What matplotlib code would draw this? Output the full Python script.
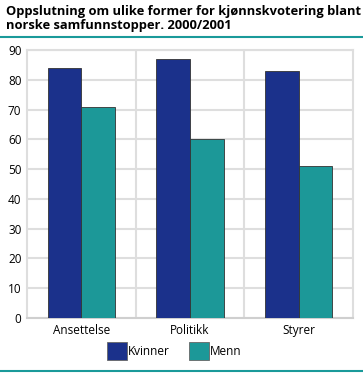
import matplotlib
matplotlib.use("Agg")
import matplotlib.pyplot as plt
import numpy as np
from matplotlib.patches import Patch
from matplotlib.lines import Line2D

# data
categories = ["Ansettelse", "Politikk", "Styrer"]
kvinner = [84, 87, 83]
menn = [71, 60, 51]
series_names = ["Kvinner", "Menn"]
yticks = list(range(0, 91, 10))

C_KV = "#1b318b"
C_ME = "#1c9898"
TEAL = "#1a9a9a"
GRID = "#dedede"

plt.rcParams["font.family"] = ["Open Sans", "DejaVu Sans"]

fig = plt.figure(figsize=(3.63, 3.73), dpi=100)
W, H = 363, 373
ax = fig.add_axes([27 / W, 1 - 318 / H, (353 - 27) / W, (318 - 50) / H])

x = np.arange(len(categories))
bw = 0.31
ax.bar(x - bw / 2, kvinner, bw, color=C_KV, edgecolor="#333333", linewidth=0.6, zorder=3)
ax.bar(x + bw / 2, menn, bw, color=C_ME, edgecolor="#333333", linewidth=0.6, zorder=3)

ax.set_xlim(-0.5, len(categories) - 0.5)
ax.set_ylim(0, 90)
ax.set_yticks(yticks)
ax.set_xticks(x)
ax.set_xticklabels(categories)
ax.tick_params(length=0, labelsize=8.5, pad=4, colors="black")
ax.yaxis.grid(True, color=GRID, linewidth=1.5, zorder=0)
for b in np.arange(0.5, len(categories) - 0.5, 1):
    ax.axvline(b, color=GRID, linewidth=1.5, zorder=0)
for s in ["left", "top", "right"]:
    ax.spines[s].set_color(GRID)
    ax.spines[s].set_linewidth(1.5)
ax.spines["bottom"].set_color("#cfcfcf")
ax.spines["bottom"].set_linewidth(1.5)

fig.text(6 / W, 1 - 5 / H,
         "Oppslutning om ulike former for kjønnskvotering blant\nnorske samfunnstopper. 2000/2001",
         ha="left", va="top", fontsize=9.3, fontweight="bold", linespacing=1.15)

fig.add_artist(Line2D([0, 362 / W], [1 - 37 / H] * 2, color=TEAL, linewidth=1.5))
fig.add_artist(Line2D([0, 362 / W], [1 - 371 / H] * 2, color=TEAL, linewidth=1.5))

handles = [Patch(facecolor=C_KV, edgecolor="#666666", linewidth=0.6),
           Patch(facecolor=C_ME, edgecolor="#666666", linewidth=0.6)]
fig.legend(handles, series_names, loc="center", bbox_to_anchor=(174 / W, 1 - 351 / H),
           ncol=2, frameon=False, fontsize=8.5, handlelength=1.7, handleheight=1.9,
           handletextpad=0.1, columnspacing=1.6)

fig.savefig("out.png", dpi=100)
